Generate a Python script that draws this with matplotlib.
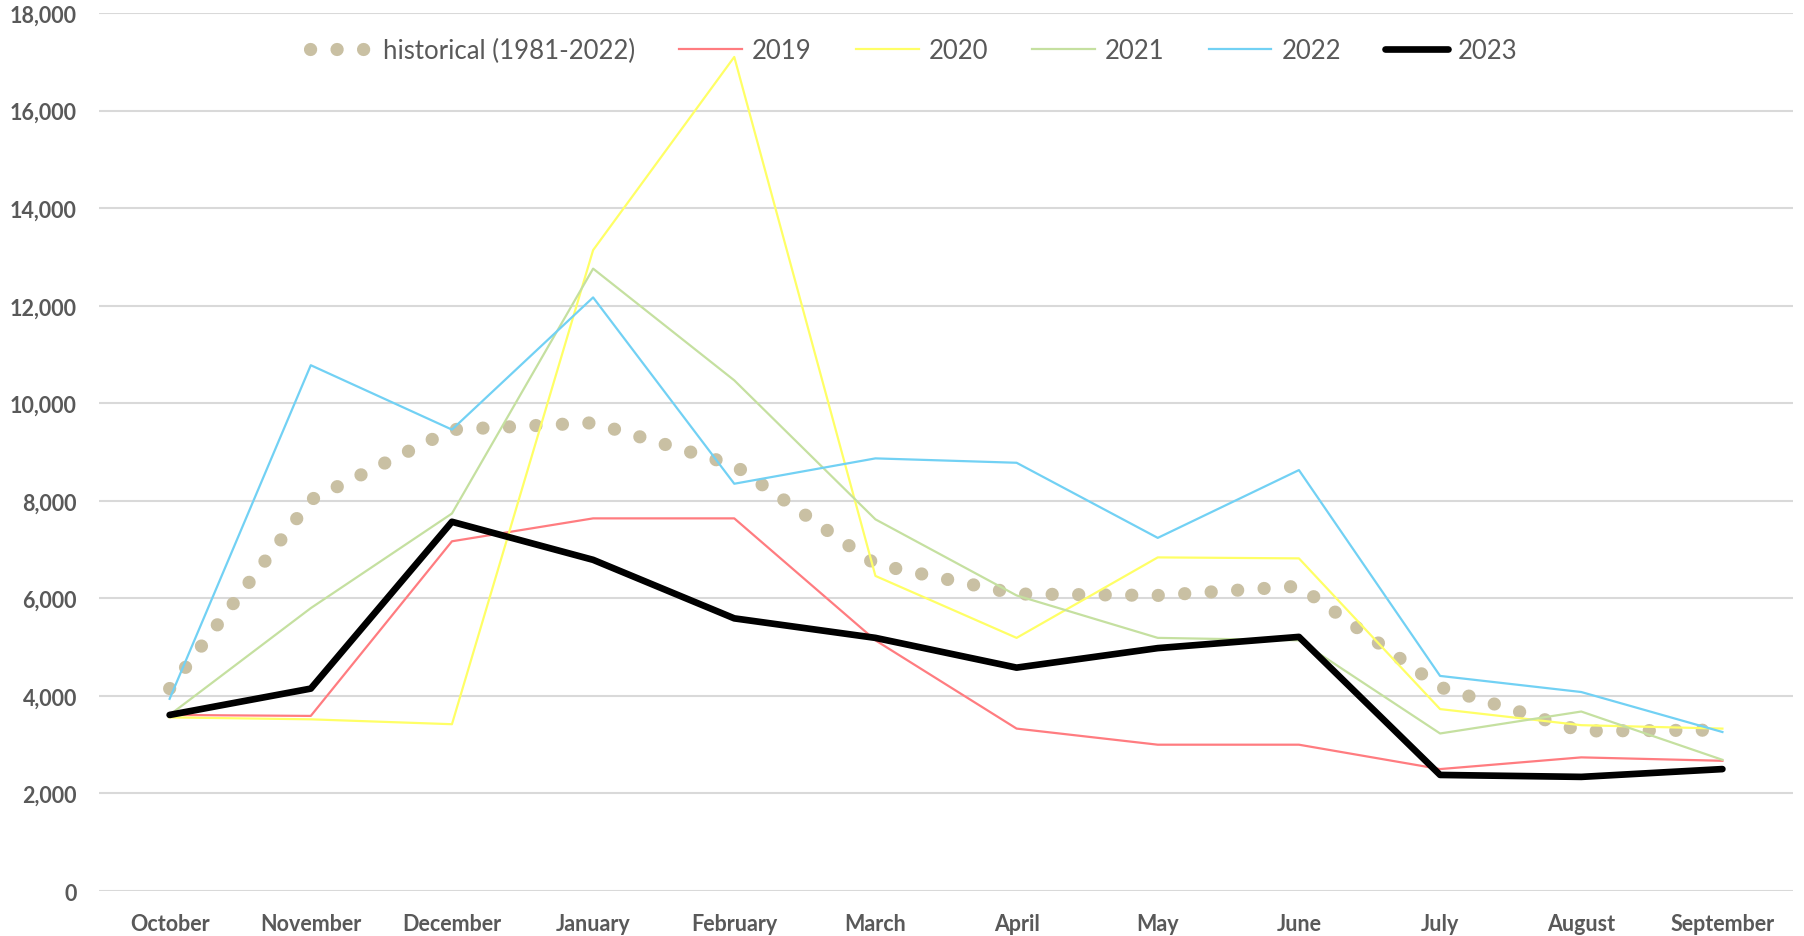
import matplotlib
matplotlib.use("Agg")
import matplotlib.pyplot as plt
from matplotlib.ticker import FuncFormatter

months = ["October", "November", "December", "January", "February", "March",
          "April", "May", "June", "July", "August", "September"]

historical = [4150, 8020, 9460, 9600, 8730, 6700, 6090, 6060, 6250, 4180, 3280, 3300]
y2019 = [3610, 3590, 7170, 7640, 7640, 5140, 3330, 3000, 3000, 2500, 2740, 2670]
y2020 = [3560, 3520, 3420, 13140, 17100, 6460, 5190, 6840, 6820, 3730, 3400, 3330]
y2021 = [3610, 5800, 7740, 12760, 10470, 7620, 6060, 5190, 5140, 3230, 3680, 2690]
y2022 = [3940, 10780, 9460, 12170, 8350, 8870, 8780, 7240, 8630, 4410, 4080, 3260]
y2023 = [3610, 4150, 7570, 6790, 5590, 5190, 4580, 4980, 5210, 2380, 2340, 2500]

plt.rcParams['font.family'] = ['Lato', 'DejaVu Sans']
grey = "#595959"

fig = plt.figure(figsize=(18.04, 9.37), dpi=100)
ax = fig.add_axes([0.0549, 0.048, 0.939, 0.937])

x = range(len(months))

ax.plot(x, historical, color="#C9C0A3", lw=9.5, ls=(0, (0.01, 2.0)),
        dash_capstyle='round', label="historical (1981-2022)", zorder=2)
ax.plot(x, y2019, color="#FF7C80", lw=1.6, label="2019", zorder=3)
ax.plot(x, y2020, color="#FFFF66", lw=1.6, label="2020", zorder=3)
ax.plot(x, y2021, color="#C5E0A0", lw=1.6, label="2021", zorder=3)
ax.plot(x, y2022, color="#72D1F4", lw=1.6, label="2022", zorder=3)
ax.plot(x, y2023, color="black", lw=4.8, solid_capstyle='round', label="2023", zorder=4)

ax.set_xlim(-0.5, 11.5)
ax.set_ylim(0, 18000)
ax.set_yticks(range(0, 18001, 2000))
ax.yaxis.set_major_formatter(FuncFormatter(lambda v, p: f"{int(v):,}"))
ax.set_xticks(list(x))
ax.set_xticklabels(months)

for s in ax.spines.values():
    s.set_visible(False)
ax.grid(True, axis='y', color="#D9D9D9", lw=1.5, zorder=0)
ax.set_axisbelow(True)
ax.tick_params(axis='both', length=0, labelsize=15.5, labelcolor=grey)
ax.tick_params(axis='y', pad=16)
ax.tick_params(axis='x', pad=15.5)
for lbl in ax.get_xticklabels() + ax.get_yticklabels():
    lbl.set_fontweight('bold')

leg = ax.legend(loc="upper center", bbox_to_anchor=(0.481, 0.998), ncol=6, frameon=False,
                fontsize=18.5, handlelength=2.45, handletextpad=0.4, columnspacing=1.7)
for t in leg.get_texts():
    t.set_color(grey)

plt.savefig("out.png", dpi=100)
